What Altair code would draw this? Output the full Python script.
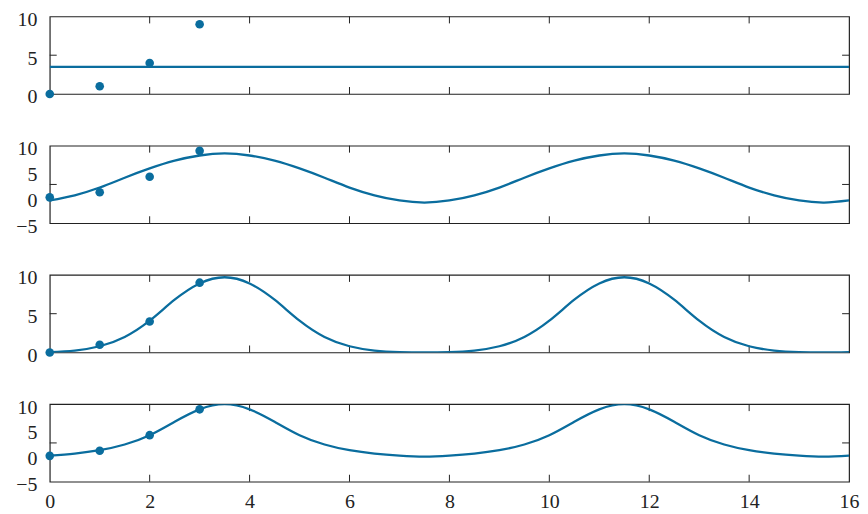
import altair as alt
import pandas as pd

BLUE = "#0a6d9e"
FRAME = "#222222"
FONT = "Liberation Serif"

# observed samples
obs_x = [0, 1, 2, 3]
obs_y = [0, 1, 4, 9]

# curve sample positions
curve_x = [0, 0.5, 1, 1.5, 2, 2.5, 3, 3.5, 4, 4.5, 5, 5.5, 6, 6.5, 7, 7.5, 8,
           8.5, 9, 9.5, 10, 10.5, 11, 11.5, 12, 12.5, 13, 13.5, 14, 14.5, 15, 15.5, 16]

# panel 1: constant fit
const_x = [0, 16]
const_y = [3.5, 3.5]

# panel 2: sinusoidal fit
sine_y = [-0.6, 0.4, 1.9, 3.8, 5.6, 7.1, 8.1, 8.5, 8.1, 7.1, 5.6, 3.8, 1.9, 0.4, -0.6, -1.0, -0.6,
          0.4, 1.9, 3.8, 5.6, 7.1, 8.1, 8.5, 8.1, 7.1, 5.6, 3.8, 1.9, 0.4, -0.6, -1.0, -0.6]

# panel 3: gaussian-like periodic fit
gauss_y = [0.05, 0.25, 0.8, 2.0, 4.1, 6.8, 8.9, 9.7, 8.9, 6.8, 4.1, 2.0, 0.8, 0.25, 0.05, 0.0, 0.05,
           0.25, 0.8, 2.0, 4.1, 6.8, 8.9, 9.7, 8.9, 6.8, 4.1, 2.0, 0.8, 0.25, 0.05, 0.0, 0.05]

# panel 4: peaked periodic fit
peak_y = [0.05, 0.45, 1.1, 2.2, 4.0, 6.6, 9.0, 10.0, 9.0, 6.6, 4.0, 2.2, 1.1, 0.45, 0.05, -0.15, 0.05,
          0.45, 1.1, 2.2, 4.0, 6.6, 9.0, 10.0, 9.0, 6.6, 4.0, 2.2, 1.1, 0.45, 0.05, -0.15, 0.05]

x_label_vals = [0, 2, 4, 6, 8, 10, 12, 14, 16]
x_tickmarks = [2, 4, 6, 8, 10, 12, 14]

W, H = 804, 78
TL = 7

obs_df = pd.DataFrame({"x": obs_x, "y": obs_y})
xt_df = pd.DataFrame({"x": x_tickmarks})


def panel(cx, cy, ydom, ylabels, ymarks, show_x):
    xs = alt.Scale(domain=[0, 16], nice=False, zero=False)
    ys = alt.Scale(domain=ydom, nice=False, zero=False)
    if show_x:
        xaxis = alt.Axis(values=x_label_vals, ticks=False, domain=False, grid=False,
                         labelPadding=10, title=None, labelFlush=False)
    else:
        xaxis = None
    yaxis = alt.Axis(values=ylabels, ticks=False, domain=False, grid=False,
                     labelPadding=13, labelOffset=3, title=None)
    X = alt.X("x:Q", scale=xs, axis=xaxis)
    Y = alt.Y("y:Q", scale=ys, axis=yaxis)
    cdf = pd.DataFrame({"x": cx, "y": cy})
    line = alt.Chart(cdf).mark_line(color=BLUE, strokeWidth=2.3, interpolate="natural",
                                    clip=True).encode(x=X, y=Y)
    pts = alt.Chart(obs_df).mark_circle(color=BLUE, size=75, opacity=1).encode(x=X, y=Y)
    yt_df = pd.DataFrame({"y": ymarks})
    xt_top = alt.Chart(xt_df).mark_rule(color=FRAME, strokeWidth=1).encode(
        x=X, y=alt.value(0), y2=alt.value(TL))
    xt_bot = alt.Chart(xt_df).mark_rule(color=FRAME, strokeWidth=1).encode(
        x=X, y=alt.value(H - TL), y2=alt.value(H))
    yt_l = alt.Chart(yt_df).mark_rule(color=FRAME, strokeWidth=1).encode(
        y=Y, x=alt.value(0), x2=alt.value(TL))
    yt_r = alt.Chart(yt_df).mark_rule(color=FRAME, strokeWidth=1).encode(
        y=Y, x=alt.value(W - TL), x2=alt.value(W))
    return alt.layer(xt_top, xt_bot, yt_l, yt_r, line, pts).properties(width=W, height=H)


p1 = panel(const_x, const_y, [0, 10], [0, 5, 10], [5], False)
p2 = panel(curve_x, sine_y, [-5, 10], [-5, 0, 5, 10], [2.5], False)
p3 = panel(curve_x, gauss_y, [0, 10], [0, 5, 10], [5], False)
p4 = panel(curve_x, peak_y, [-5, 10], [-5, 0, 5, 10], [2.5], True)

chart = alt.vconcat(p1, p2, p3, p4, spacing=52, bounds="flush").properties(
    padding={"left": 7, "top": -1, "right": 0, "bottom": 0}
).configure_view(stroke=FRAME, strokeWidth=1.2).configure_axis(
    labelFont=FONT, labelFontSize=20, labelColor="#222222"
)

chart.save("out.html", embed_options={"renderer": "svg", "actions": False})
